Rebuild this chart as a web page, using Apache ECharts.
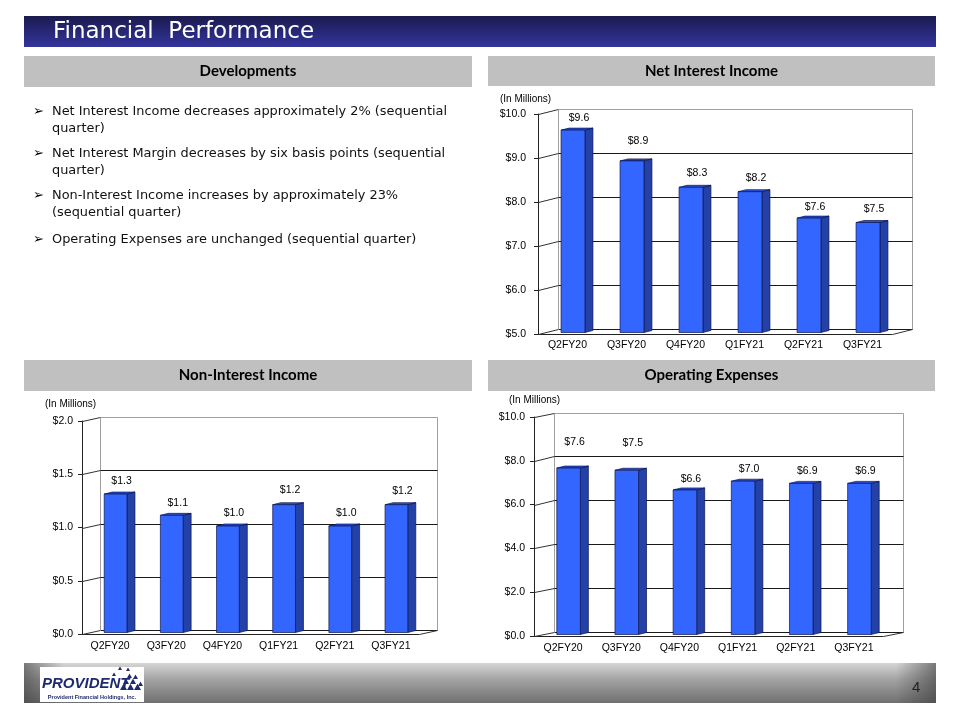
<!DOCTYPE html>
<html>
<head>
<meta charset="utf-8">
<title>Financial Performance</title>
<script src="https://cdn.jsdelivr.net/npm/echarts@6/dist/echarts.min.js"></script>
<style>
  html, body { margin: 0; padding: 0; background: #fff; }
  #slide { width: 960px; height: 720px; }
</style>
</head>
<body>
<div id="slide"></div>
<script>
// quarters shown on all three charts
const quarters = ['Q2FY20', 'Q3FY20', 'Q4FY20', 'Q1FY21', 'Q2FY21', 'Q3FY21'];

// values in $ millions
const netInterestIncome = [9.6, 8.9, 8.3, 8.2, 7.6, 7.5];
const nonInterestIncome = [1.3, 1.1, 1.0, 1.2, 1.0, 1.2];
const operatingExpenses = [7.6, 7.5, 6.6, 7.0, 6.9, 6.9];

// value axis ticks
const niiTicks = [5, 6, 7, 8, 9, 10];
const nonIntTicks = [0, 0.5, 1.0, 1.5, 2.0];
const opexTicks = [0, 2, 4, 6, 8, 10];

// developments text, already broken into lines
const bullets = [
    ['Net Interest Income decreases approximately 2% (sequential', 'quarter)'],
    ['Net Interest Margin decreases by six basis points (sequential', 'quarter)'],
    ['Non-Interest Income increases by approximately 23%', '(sequential quarter)'],
    ['Operating Expenses are unchanged (sequential quarter)'],
];

const AXIS_FONT = '"Liberation Sans", Arial, sans-serif';
const FRONT = '#3366ff', SIDE = '#2441a8', TOP = '#2c50d8', EDGE = '#0d1650';

// one entry per chart: grid is the front plane, depth pushes the back wall
const charts = [
    {
        values: netInterestIncome, ticks: niiTicks,
        grid: { left: 538, top: 114, width: 354, height: 220 },
        depth: [20, -5], labelGap: [13, 21, 16, 15, 12, 15], yMargin: 12, xMargin: 6,
    },
    {
        values: nonInterestIncome, ticks: nonIntTicks,
        grid: { left: 82, top: 421, width: 337, height: 213 },
        depth: [18, -4], labelGap: [14, 14, 14, 16, 14, 15], yMargin: 9, xMargin: 7,
    },
    {
        values: operatingExpenses, ticks: opexTicks,
        grid: { left: 534, top: 417, width: 349, height: 219 },
        depth: [20, -4.5], labelGap: [27, 29, 12, 14, 14, 14], yMargin: 9, xMargin: 7,
    },
];

const px = (v) => Math.round(v) + 0.5;
const line = (x1, y1, x2, y2, color) => ({
    type: 'line',
    shape: { x1: px(x1), y1: px(y1), x2: px(x2), y2: px(y2) },
    style: { stroke: color, lineWidth: 1 },
});

const grids = [], xAxes = [], yAxes = [], series = [];

charts.forEach((c, k) => {
    const yMin = c.ticks[0], yMax = c.ticks[c.ticks.length - 1];
    const [dx, dy] = c.depth;
    grids.push(Object.assign({ containLabel: false }, c.grid));
    xAxes.push({
        type: 'category', gridIndex: k, data: quarters,
        axisLine: { lineStyle: { color: '#222', width: 1 } },
        axisTick: { length: 4, lineStyle: { color: '#222' } },
        axisLabel: { margin: c.xMargin, color: '#000', fontSize: 10.5, fontFamily: AXIS_FONT },
        splitLine: { show: false },
    });
    yAxes.push({
        type: 'value', gridIndex: k, min: yMin, max: yMax, interval: c.ticks[1] - c.ticks[0],
        axisLine: { show: true, lineStyle: { color: '#222', width: 1 } },
        axisTick: { show: true, length: 4, lineStyle: { color: '#222' } },
        axisLabel: {
            margin: c.yMargin, color: '#000', fontSize: 10.5, fontFamily: AXIS_FONT,
            formatter: (v) => '$' + v.toFixed(1),
        },
        splitLine: { show: false },
    });

    // walls and floor of the 3D box, one item per tick
    series.push({
        type: 'custom', xAxisIndex: k, yAxisIndex: k, z: 1, silent: true,
        data: c.ticks.map((t) => [0, t]),
        encode: { x: 0, y: 1 },
        renderItem: (params, api) => {
            const cs = params.coordSys;
            const v = api.value(1);
            const y = api.coord([0, v])[1];
            const right = cs.x + cs.width, bottom = cs.y + cs.height;
            const children = [
                line(cs.x, y, cs.x + dx, y + dy, '#333'),
                line(cs.x + dx, y + dy, right + dx, y + dy, v === yMax ? '#a0a0a0' : '#1a1a1a'),
            ];
            if (v === yMin) {
                children.push(line(cs.x + dx, cs.y + dy, cs.x + dx, bottom + dy, '#a0a0a0'));
                children.push(line(right + dx, cs.y + dy, right + dx, bottom + dy, '#a0a0a0'));
                children.push(line(right, bottom, right + dx, bottom + dy, '#333'));
            }
            return { type: 'group', children };
        },
    });

    // 3D bars with their value labels
    series.push({
        type: 'custom', xAxisIndex: k, yAxisIndex: k, z: 3, silent: true,
        data: c.values.map((v, i) => [i, v]),
        encode: { x: 0, y: 1 },
        renderItem: (params, api) => {
            const i = api.value(0), v = api.value(1);
            const top = api.coord([i, v]);
            const base = api.coord([i, yMin]);
            const band = api.size([1, 0])[0];
            const w = band * 0.405;
            const cx = top[0] + 5.5;
            const x0 = cx - w / 2, x1 = cx + w / 2;
            const yt = top[1] - 1.5, yb = base[1] - 1.5;
            const d = 8, dd = -2;
            const edge = { stroke: EDGE, lineWidth: 0.7 };
            return {
                type: 'group',
                children: [
                    { type: 'polygon', shape: { points: [[x1, yt], [x1 + d, yt + dd], [x1 + d, yb + dd], [x1, yb]] },
                      style: Object.assign({ fill: SIDE }, edge) },
                    { type: 'polygon', shape: { points: [[x0, yt], [x0 + d, yt + dd], [x1 + d, yt + dd], [x1, yt]] },
                      style: Object.assign({ fill: TOP }, edge) },
                    { type: 'rect', shape: { x: x0, y: yt, width: w, height: yb - yt },
                      style: Object.assign({ fill: FRONT }, edge) },
                    { type: 'text', style: {
                        text: '$' + v.toFixed(1), x: cx + 6, y: yt + 1.5 - c.labelGap[i],
                        align: 'center', verticalAlign: 'middle',
                        font: '10.5px ' + AXIS_FONT, fill: '#000' } },
                ],
            };
        },
    });
});

// slide furniture: header, section bars, bullets, footer
const elements = [];
elements.push({
    type: 'rect', shape: { x: 24, y: 16, width: 912, height: 31 },
    style: { fill: new echarts.graphic.LinearGradient(0, 0, 0, 1, [
        { offset: 0, color: '#1b1b4d' }, { offset: 0.45, color: '#262673' }, { offset: 1, color: '#34349c' }]) },
});
elements.push({
    type: 'text', x: 53, y: 32,
    style: { text: 'Financial  Performance', font: '23px "DejaVu Sans", sans-serif', fill: '#fff', verticalAlign: 'middle' },
});

const sections = [
    { text: 'Developments', x: 24, y: 56, w: 448, h: 31 },
    { text: 'Net Interest Income', x: 488, y: 56, w: 447, h: 30 },
    { text: 'Non-Interest Income', x: 24, y: 360, w: 448, h: 31 },
    { text: 'Operating Expenses', x: 488, y: 360, w: 447, h: 31 },
];
sections.forEach((s) => {
    elements.push({ type: 'rect', shape: { x: s.x, y: s.y, width: s.w, height: s.h }, style: { fill: '#c0c0c0' } });
    elements.push({
        type: 'text', x: s.x + s.w / 2, y: s.y + s.h / 2,
        style: { text: s.text, font: 'bold 15px Lato, sans-serif', fill: '#000', align: 'center', verticalAlign: 'middle' },
    });
});

const bulletTops = [112, 154, 196, 240];
bullets.forEach((lines, b) => {
    elements.push({
        type: 'text', x: 33, y: bulletTops[b],
        style: { text: '\u27A2', font: '13px "DejaVu Sans", sans-serif', fill: '#000', verticalAlign: 'middle' },
    });
    lines.forEach((t, j) => {
        elements.push({
            type: 'text', x: 52, y: bulletTops[b] + j * 17,
            style: { text: t, font: '12.9px "DejaVu Sans", sans-serif', fill: '#111', verticalAlign: 'middle' },
        });
    });
});

[[500, 99], [45, 404], [509, 400]].forEach(([x, y]) => {
    elements.push({
        type: 'text', x, y,
        style: { text: '(In Millions)', font: '10px ' + AXIS_FONT, fill: '#000', verticalAlign: 'middle' },
    });
});

// footer band
elements.push({
    type: 'rect', shape: { x: 24, y: 663, width: 912, height: 40 },
    style: { fill: new echarts.graphic.LinearGradient(0, 0, 0, 1, [
        { offset: 0, color: '#d6d6d6' }, { offset: 0.4, color: '#a4a4a4' }, { offset: 1, color: '#707070' }]) },
});
elements.push({
    type: 'rect', shape: { x: 24, y: 663, width: 40, height: 40 },
    style: { fill: new echarts.graphic.LinearGradient(0, 0, 1, 0, [
        { offset: 0, color: 'rgba(60,60,60,0.6)' }, { offset: 1, color: 'rgba(60,60,60,0)' }]) },
});
elements.push({
    type: 'rect', shape: { x: 896, y: 663, width: 40, height: 40 },
    style: { fill: new echarts.graphic.LinearGradient(0, 0, 1, 0, [
        { offset: 0, color: 'rgba(60,60,60,0)' }, { offset: 1, color: 'rgba(60,60,60,0.6)' }]) },
});
elements.push({ type: 'rect', shape: { x: 40, y: 667, width: 104, height: 35 }, style: { fill: '#fff' } });
elements.push({
    type: 'text', x: 42, y: 684,
    style: { text: 'PROVIDENT', font: 'italic bold 15px "Liberation Sans Narrow", "Liberation Sans", sans-serif',
             fill: '#1e2a6e', verticalAlign: 'middle' },
});
elements.push({
    type: 'text', x: 92, y: 697,
    style: { text: 'Provident Financial Holdings, Inc.', font: 'bold 5.5px "Liberation Sans", sans-serif',
             fill: '#1e2a6e', align: 'center', verticalAlign: 'middle' },
});
[[120, 690, 7], [127, 690, 7], [134, 690, 7], [123, 684, 6], [130, 684, 6], [127, 678, 5],
 [133, 679, 5], [138, 686, 5], [112, 676, 4], [118, 670, 4], [126, 671, 4]].forEach(([x, y, s]) => {
    elements.push({
        type: 'polygon', shape: { points: [[x, y], [x + s, y], [x + s / 2, y - s * 0.9]] },
        style: { fill: '#1e2a6e' },
    });
});
elements.push({
    type: 'text', x: 912, y: 688,
    style: { text: '4', font: '15px "Liberation Sans Narrow", "Liberation Sans", sans-serif', fill: '#222', verticalAlign: 'middle' },
});

const chart = echarts.init(document.getElementById('slide'), null, { renderer: 'canvas' });
chart.setOption({
    backgroundColor: '#fff',
    animation: false,
    grid: grids,
    xAxis: xAxes,
    yAxis: yAxes,
    series: series,
    graphic: { elements },
});
</script>
</body>
</html>
